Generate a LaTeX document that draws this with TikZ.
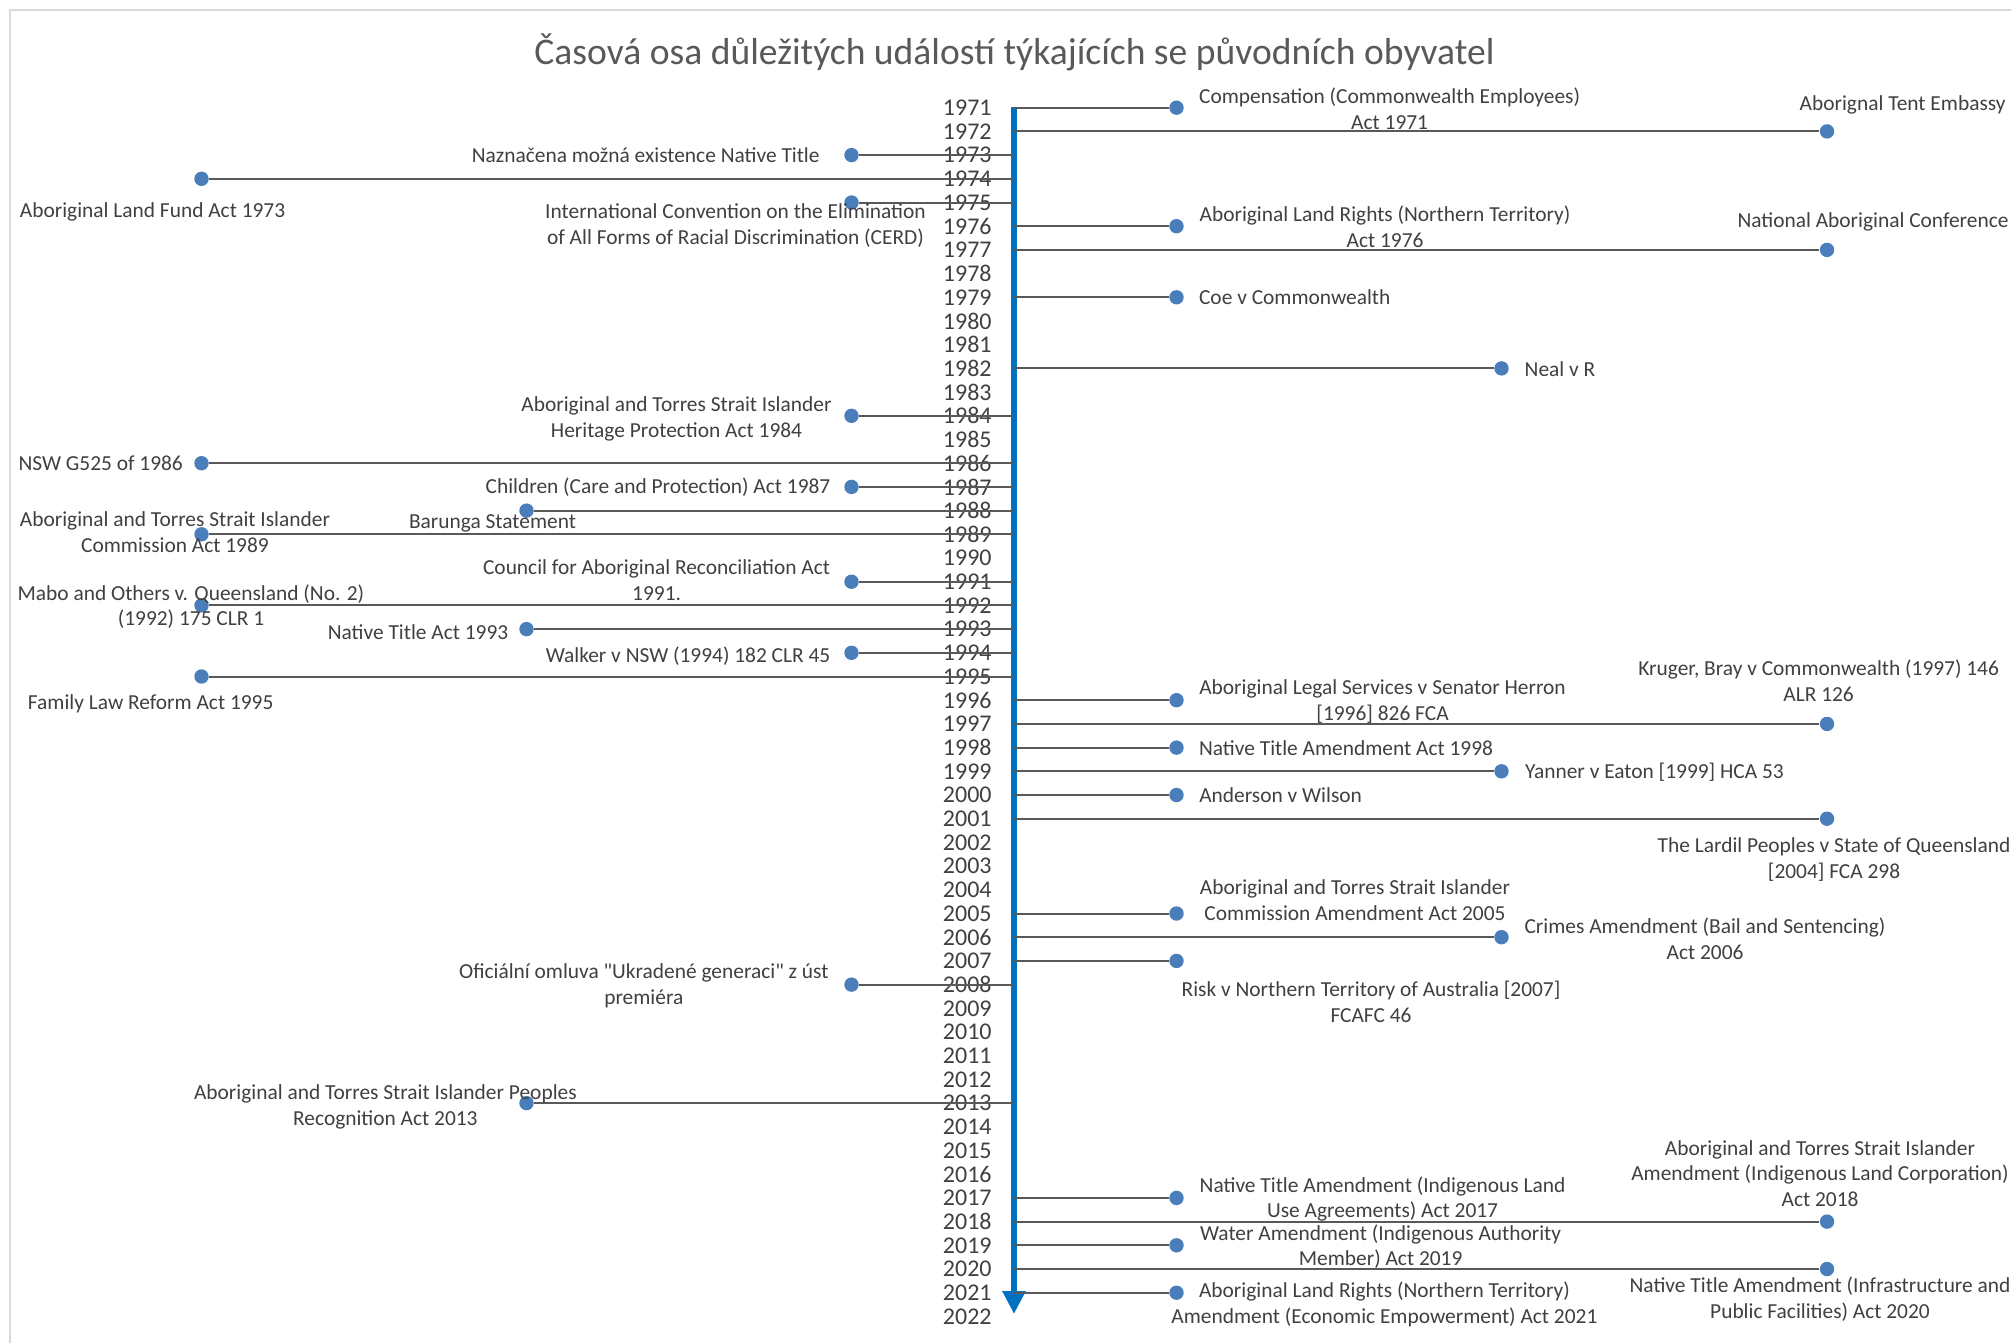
\documentclass[tikz,border=0pt]{standalone}
\usepackage{fontspec}
\setmainfont{Carlito}[Ligatures=TeXOff]
\usetikzlibrary{arrows.meta}
\definecolor{axisblue}{HTML}{0070C0}
\definecolor{dotblue}{HTML}{4A7EBB}
\definecolor{stemgray}{HTML}{595959}
\definecolor{txt}{HTML}{404040}
\definecolor{titlegray}{HTML}{595959}
\definecolor{framegray}{HTML}{D9D9D9}
\newcommand\yp[1]{107.7+(#1-1971)*23.7}
\newcommand\ev[3]{%
  \coordinate (s#1) at (1014,{\yp{#3}});
  \node[dot] (#1) at (#2,{\yp{#3}}) {};
  \draw[stem] (s#1) -- (#1);
}
\begin{document}
\begin{tikzpicture}[x=0.5pt,y=-0.5pt,
  lab/.style={font=\fontsize{10.7}{12.8}\selectfont, text=txt, align=center, inner sep=0pt},
  yr/.style={font=\fontsize{12}{14}\selectfont, text=txt, anchor=east, inner sep=0pt},
  dot/.style={circle, fill=dotblue, inner sep=0pt, minimum size=7.2pt},
  stem/.style={draw=stemgray, line width=1pt},
]
\useasboundingbox (0,0) rectangle (2011,1343);
\fill[white] (0,0) rectangle (2011,1343);
\draw[framegray, line width=0.8pt] (10,1343) -- (10,10) -- (2011,10);
\node[font=\fontsize{18.8}{22}\selectfont, text=titlegray, inner sep=0pt] (title) at (1014.5,52.6) {Časová osa důležitých událostí týkajících se původních obyvatel};
% axis
\coordinate (axtop) at (1014,107);
\coordinate (axbot) at (1014,1314);
\draw[axisblue, line width=3.2pt, -{Triangle[width=11pt,length=11.5pt]}] (axtop) -- (axbot);
% years
\foreach \y in {1971,...,2022} {\node[yr] (y\y) at (992,{\yp{\y}}) {\y};}
% levels
\def\La{851.5}\def\Lb{526.5}\def\Lc{201.5}
\def\Ra{1176.5}\def\Rb{1501.5}\def\Rc{1827}
% events right
\ev{e71}{\Ra}{1971}
\ev{e72}{\Rc}{1972}
\ev{e76}{\Ra}{1976}
\ev{e77}{\Rc}{1977}
\ev{e79}{\Ra}{1979}
\ev{e82}{\Rb}{1982}
\ev{e96}{\Ra}{1996}
\ev{e97}{\Rc}{1997}
\ev{e98}{\Ra}{1998}
\ev{e99}{\Rb}{1999}
\ev{e00}{\Ra}{2000}
\ev{e01}{\Rc}{2001}
\ev{e05}{\Ra}{2005}
\ev{e06}{\Rb}{2006}
\ev{e07}{\Ra}{2007}
\ev{e17}{\Ra}{2017}
\ev{e18}{\Rc}{2018}
\ev{e19}{\Ra}{2019}
\ev{e20}{\Rc}{2020}
\ev{e21}{\Ra}{2021}
% events left
\ev{e73}{\La}{1973}
\ev{e74}{\Lc}{1974}
\ev{e75}{\La}{1975}
\ev{e84}{\La}{1984}
\ev{e86}{\Lc}{1986}
\ev{e87}{\La}{1987}
\ev{e88}{\Lb}{1988}
\ev{e89}{\Lc}{1989}
\ev{e91}{\La}{1991}
\ev{e92}{\Lc}{1992}
\ev{e93}{\Lb}{1993}
\ev{e94}{\La}{1994}
\ev{e95}{\Lc}{1995}
\ev{e08}{\La}{2008}
\ev{e13}{\Lb}{2013}
% labels right
\node[lab] (t71) at (1389.6,109) {Compensation (Commonwealth Employees)\\Act 1971};
\node[lab] (t72) at (1902.6,105.2) {Aborignal Tent Embassy};
\node[lab] (t76) at (1385,227) {Aboriginal Land Rights (Northern Territory)\\Act 1976};
\node[lab] (t77) at (1873,221.9) {National Aboriginal Conference};
\node[lab] (t79) at (1294.7,297.5) {Coe v Commonwealth};
\node[lab] (t82) at (1560,369.4) {Neal v R};
\node[lab] (t96) at (1382.5,701.5) {Aboriginal Legal Services v Senator Herron\\{[1996]} 826 FCA};
\node[lab] (t97) at (1818.6,681) {Kruger, Bray v Commonwealth (1997) 146\\ALR 126};
\node[lab] (t98) at (1346,747.7) {Native Title Amendment Act 1998};
\node[lab] (t99) at (1654.4,772) {Yanner v Eaton [1999] HCA 53};
\node[lab] (t00) at (1280.6,795) {Anderson v Wilson};
\node[lab] (t01) at (1834,859.3) {The Lardil Peoples v State of Queensland\\{[2004]} FCA 298};
\node[lab] (t05) at (1355,900.3) {Aboriginal and Torres Strait Islander\\Commission Amendment Act 2005};
\node[lab] (t06) at (1705,938.8) {Crimes Amendment (Bail and Sentencing)\\Act 2006};
\node[lab] (t07) at (1371,1001.6) {Risk v Northern Territory of Australia [2007]\\FCAFC 46};
\node[lab] (t17) at (1382.5,1199.1) {Native Title Amendment (Indigenous Land\\Use Agreements) Act 2017};
\node[lab] (t18) at (1820,1173.5) {Aboriginal and Torres Strait Islander\\Amendment (Indigenous Land Corporation)\\Act 2018};
\node[lab] (t19) at (1380.6,1246.6) {Water Amendment (Indigenous Authority\\Member) Act 2019};
\node[lab] (t20) at (1820,1299.2) {Native Title Amendment (Infrastructure and\\Public Facilities) Act 2020};
\node[lab] (t21) at (1384.4,1304.3) {Aboriginal Land Rights (Northern Territory)\\Amendment (Economic Empowerment) Act 2021};
% labels left
\node[lab] (t73) at (645.7,155.2) {Naznačena možná existence Native Title};
\node[lab] (t74) at (152.6,211.6) {Aboriginal Land Fund Act 1973};
\node[lab] (t75) at (735.5,225.7) {International Convention on the Elimination\\of All Forms of Racial Discrimination (CERD)};
\node[lab] (t84) at (676.5,418.7) {Aboriginal and Torres Strait Islander\\Heritage Protection Act 1984};
\node[lab] (t86) at (100.7,463) {NSW G525 of 1986};
\node[lab] (t87) at (658,487.4) {Children (Care and Protection) Act 1987};
\node[lab] (t88) at (492.5,523.3) {Barunga Statement};
\node[lab] (t89) at (175,532.2) {Aboriginal and Torres Strait Islander\\Commission Act 1989};
\node[lab] (t91) at (656.6,580.3) {Council for Aboriginal Reconciliation Act\\1991.};
\node[lab] (t92) at (191,606.6) {Mabo and Others v. Queensland (No. 2)\\(1992) 175 CLR 1};
\node[lab] (t93) at (418,632.3) {Native Title Act 1993};
\node[lab] (t94) at (688,656.6) {Walker v NSW (1994) 182 CLR 45};
\node[lab] (t95) at (150.7,704.1) {Family Law Reform Act 1995};
\node[lab] (t08) at (643.8,985.6) {Oficiální omluva "Ukradené generaci" z úst\\premiéra};
\node[lab] (t13) at (385.4,1106.8) {Aboriginal and Torres Strait Islander Peoples\\Recognition Act 2013};
\end{tikzpicture}
\end{document}
